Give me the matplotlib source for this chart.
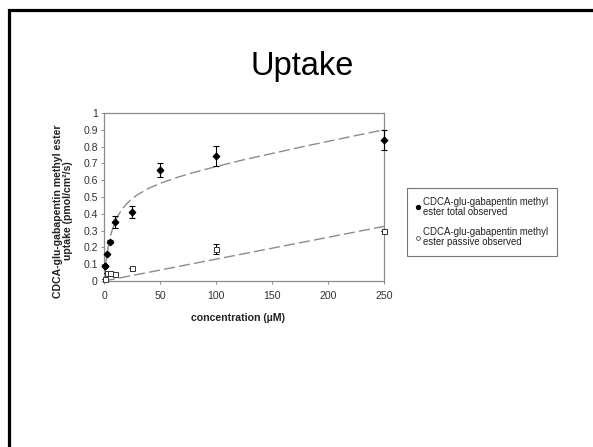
import matplotlib
matplotlib.use("Agg")
import matplotlib.pyplot as plt
from matplotlib.lines import Line2D

plt.rcParams['font.family'] = ['Liberation Sans', 'DejaVu Sans']

# Observed data
conc_total = [0.5, 1, 2.5, 5, 10, 25, 50, 100, 250]
uptake_total = [0.09, 0.09, 0.16, 0.235, 0.35, 0.41, 0.66, 0.745, 0.84]
err_total = [0.0, 0.0, 0.0, 0.01, 0.035, 0.035, 0.04, 0.06, 0.06]

conc_passive = [1, 2.5, 5, 10, 25, 100, 250]
uptake_passive = [0.01, 0.05, 0.045, 0.04, 0.077, 0.19, 0.296]
err_passive = [0.0, 0.0, 0.0, 0.0, 0.0, 0.03, 0.0]

# Fitted curves
fit_x_total = [0, 0.5, 1, 2, 3, 4, 5, 7, 10, 13, 16, 20, 25, 30, 40, 50, 65, 80,
               100, 125, 150, 175, 200, 225, 250]
fit_y_total = [0, 0.038, 0.072, 0.129, 0.175, 0.213, 0.246, 0.297, 0.354, 0.395,
               0.426, 0.458, 0.490, 0.514, 0.552, 0.581, 0.616, 0.646, 0.681,
               0.722, 0.759, 0.796, 0.831, 0.866, 0.900]
fit_x_passive = [0, 250]
fit_y_passive = [0, 0.325]

xticks = [0, 50, 100, 150, 200, 250]
yticks = [0, 0.1, 0.2, 0.3, 0.4, 0.5, 0.6, 0.7, 0.8, 0.9, 1]
ytick_labels = ['0', '0.1', '0.2', '0.3', '0.4', '0.5', '0.6', '0.7', '0.8', '0.9', '1']

W, H = 593, 447
fig = plt.figure(figsize=(W / 100, H / 100), dpi=100)
fig.patch.set_facecolor('white')

# slide frame (left and top edges)
fig.add_artist(Line2D([9 / W, 9 / W, 1.0], [0.0, 1 - 10 / H, 1 - 10 / H],
                      transform=fig.transFigure, color='black', lw=2.3,
                      solid_joinstyle='miter'))

fig.text(302 / W, 1 - 75 / H, 'Uptake', ha='center', va='baseline',
         fontsize=23.5, color='black')

ax = fig.add_axes([104 / W, 1 - 281 / H, 280 / W, 168 / H])
ax.set_xlim(0, 250)
ax.set_ylim(0, 1)
for s in ax.spines.values():
    s.set_color('#8c8c8c')
    s.set_linewidth(0.9)

ax.plot(fit_x_total, fit_y_total, color='#8c8c8c', lw=1.0,
        dashes=(8, 3), zorder=2)
ax.plot(fit_x_passive, fit_y_passive, color='#8c8c8c', lw=1.0,
        dashes=(8, 3), zorder=2)

ax.errorbar(conc_total, uptake_total, yerr=err_total, fmt='D', color='black',
            markersize=3.3, ecolor='black', elinewidth=0.8, capsize=2,
            capthick=0.8, zorder=4, clip_on=False)
ax.errorbar(conc_passive, uptake_passive, yerr=err_passive, fmt='s',
            color='black', mfc='white', mec='#333333', markersize=3.6,
            markeredgewidth=0.7, ecolor='black', elinewidth=0.8, capsize=2,
            capthick=0.8, zorder=4, clip_on=False)

ax.set_xticks(xticks)
ax.set_yticks(yticks)
ax.set_yticklabels(ytick_labels)
ax.tick_params(axis='both', direction='out', length=2.5, width=0.7,
               colors='#8c8c8c', labelcolor='#333333', labelsize=7.6, pad=2)
ax.tick_params(axis='x', pad=5)

fig.text(238 / W, 1 - 318 / H, 'concentration (\u00b5M)', ha='center',
         va='center', fontsize=7.6, fontweight='bold', color='#222222')
fig.text(63 / W, 1 - 211 / H,
         'CDCA-glu-gabapentin methyl ester\nuptake (pmol/cm\u00b2/s)',
         ha='center', va='center', rotation=90, fontsize=7.6,
         fontweight='bold', color='#222222', linespacing=1.0)

h1 = Line2D([], [], marker='o', color='black', ls='none', markersize=2.8)
h2 = Line2D([], [], marker='o', color='#555555', mfc='white', ls='none',
            markersize=2.8, markeredgewidth=0.6)
leg = fig.legend([h1, h2],
                 ['CDCA-glu-gabapentin methyl\nester total observed',
                  'CDCA-glu-gabapentin methyl\nester passive observed'],
                 loc='center', bbox_to_anchor=(482 / W, 1 - 222 / H),
                 fontsize=6.9, frameon=True, fancybox=False, handlelength=0.4,
                 handletextpad=0.3, labelspacing=1.1, borderpad=0.9,
                 borderaxespad=0)
leg.get_frame().set_edgecolor('#555555')
leg.get_frame().set_linewidth(0.8)
for t in leg.get_texts():
    t.set_color('#222222')
    t.set_linespacing(1.0)

fig.savefig('out.png', dpi=100, facecolor='white')
